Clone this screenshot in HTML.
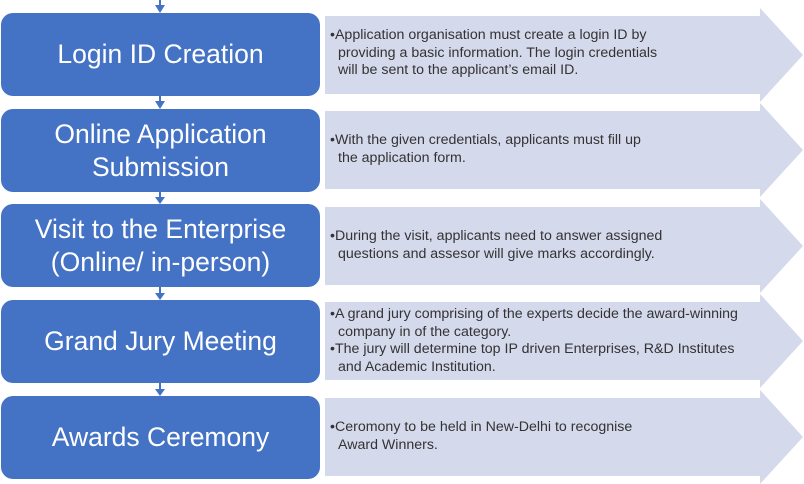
<!DOCTYPE html>
<html><head><meta charset="utf-8"><style>
body{margin:0;width:804px;height:484px;background:#fff;overflow:hidden;position:relative;font-family:"Liberation Sans",sans-serif}
.b{position:absolute;left:1px;width:319px;height:83px;background:#4472C4;border-radius:12px;color:#fff;font-size:26.5px;display:flex;align-items:center;justify-content:center;text-align:center;line-height:33px}
.t{position:absolute;left:330px;font-size:14.2px;color:#333;line-height:17.5px;width:440px}
.t div{padding-left:8px;text-indent:-8px}
</style></head><body>
<svg width="804" height="484" style="position:absolute;left:0;top:0">
<g fill="#D5D9EC">
<polygon points="325,16 760,16 760,8 803,55 760,102 760,94 325,94"/>
<polygon points="325,111 760,111 760,103 803,150 760,197 760,189 325,189"/>
<polygon points="325,207 760,207 760,199 803,246 760,293 760,285 325,285"/>
<polygon points="325,302 760,302 760,294 803,341 760,388 760,380 325,380"/>
<polygon points="325,398 760,398 760,390 803,437 760,484 760,476 325,476"/>
</g>
<g stroke="#4472C4" stroke-width="2" fill="#4472C4">
<line x1="160" y1="0" x2="160" y2="6"/><polygon points="155,5 165,5 160,13" stroke="none"/>
<line x1="160" y1="96" x2="160" y2="102"/><polygon points="155,101 165,101 160,109" stroke="none"/>
<line x1="160" y1="191" x2="160" y2="197"/><polygon points="155,197 165,197 160,204" stroke="none"/>
<line x1="160" y1="287" x2="160" y2="293"/><polygon points="155,293 165,293 160,300" stroke="none"/>
<line x1="160" y1="383" x2="160" y2="389"/><polygon points="155,389 165,389 160,396" stroke="none"/>
</g>
</svg>
<div class="b" style="top:13px">Login ID Creation</div>
<div class="b" style="top:109px">Online Application<br>Submission</div>
<div class="b" style="top:204px">Visit to the Enterprise<br>(Online/ in-person)</div>
<div class="b" style="top:300px">Grand Jury Meeting</div>
<div class="b" style="top:396px">Awards Ceremony</div>
<div class="t" style="top:27px"><div>•Application organisation must create a login ID by<br>providing a basic information. The login credentials<br>will be sent to the applicant’s email ID.</div></div>
<div class="t" style="top:132px"><div>•With the given credentials, applicants must fill up<br>the application form.</div></div>
<div class="t" style="top:228px"><div>•During the visit, applicants need to answer assigned<br>questions and assesor will give marks accordingly.</div></div>
<div class="t" style="top:306px"><div>•A grand jury comprising of the experts decide the award-winning<br>company in of the category.</div><div>•The jury will determine top IP driven Enterprises, R&amp;D Institutes<br>and Academic Institution.</div></div>
<div class="t" style="top:419px"><div>•Ceromony to be held in New-Delhi to recognise<br>Award Winners.</div></div>
</body></html>
